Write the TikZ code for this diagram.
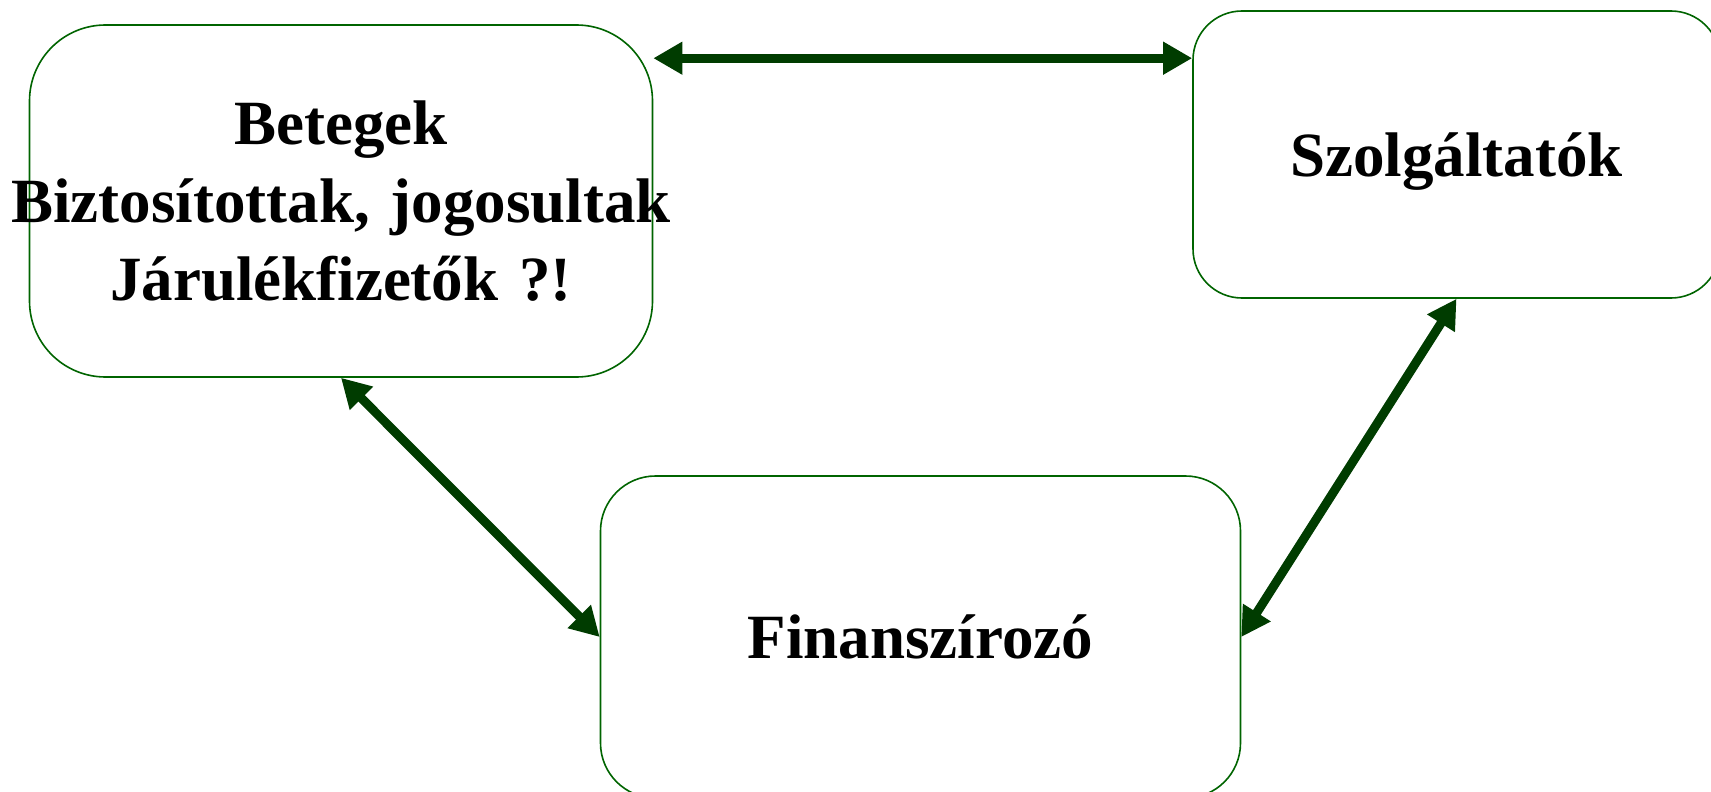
\documentclass[tikz,border=0pt]{standalone}
\usepackage{fontspec}
\setmainfont{Liberation Serif}
\usepackage{xcolor}
\usepackage{tikz}
\usetikzlibrary{arrows.meta,positioning,calc}
\definecolor{boxgreen}{RGB}{0,100,0}
\definecolor{arrowgreen}{RGB}{0,60,0}
\tikzstyle{actor} = [rectangle, draw=boxgreen, line width=1.6pt, fill=white, align=center, text depth=0pt, inner sep=0pt, font=\bfseries\fontsize{63}{78}\selectfont]
\tikzstyle{arrow} = [draw=arrowgreen, line width=9pt, {Triangle[length=29pt,width=31pt]}-{Triangle[length=29pt,width=31pt]}]

\begin{document}
\begin{tikzpicture}[x=1pt, y=-1pt]
\useasboundingbox (0,0) rectangle (1711,792);

% Szereplok
\node (betegek) [actor, minimum width=623pt, minimum height=352pt, rounded corners=76pt, text width=560pt, text depth=] at (341,201) {
    Betegek\\
    \makebox[\linewidth]{Biztosítottak, jogosultak}\\
    Járulékfizetők ?!
};

\node (szolg) [actor, minimum width=527pt, minimum height=287pt, rounded corners=49pt] at (1456.5,154.5) {Szolgáltatók};

\node (finansz) [actor, minimum width=640pt, minimum height=322pt, rounded corners=55pt] at (920.5,637) {Finanszírozó};

% Kapcsolatok
\draw [arrow] ([yshift=-34pt]betegek.north east) -- ([yshift=-48pt]szolg.north west);
\draw [arrow] (betegek.south) -- (finansz.west);
\draw [arrow] (szolg.south) -- (finansz.east);

\end{tikzpicture}
\end{document}
